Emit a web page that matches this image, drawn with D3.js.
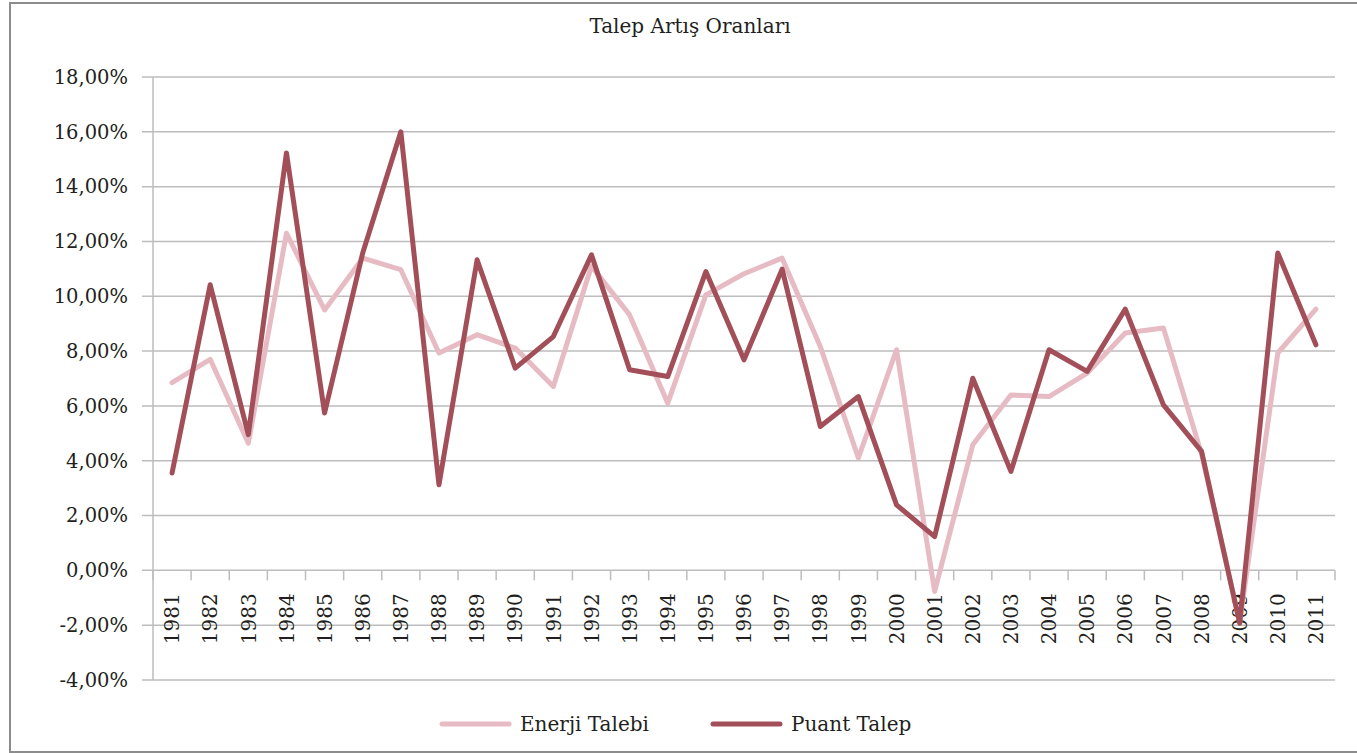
<!DOCTYPE html>
<html>
<head>
<meta charset="utf-8">
<script src="https://cdn.jsdelivr.net/npm/d3@7"></script>
<style>
  body { margin: 0; background: #fff; }
  text { font-family: "DejaVu Serif", serif; fill: #231f20; }
</style>
</head>
<body>
<div class="chart"></div>
<script>
var years = [1981, 1982, 1983, 1984, 1985, 1986, 1987, 1988, 1989, 1990,
  1991, 1992, 1993, 1994, 1995, 1996, 1997, 1998, 1999, 2000,
  2001, 2002, 2003, 2004, 2005, 2006, 2007, 2008, 2009, 2010, 2011];

var enerjiTalebi = [6.85, 7.7, 4.64, 12.3, 9.5, 11.39, 10.97, 7.93, 8.6, 8.11,
  6.71, 11.1, 9.32, 6.1, 10.05, 10.82, 11.39, 8.17, 4.1, 8.05,
  -0.77, 4.58, 6.4, 6.34, 7.2, 8.66, 8.84, 4.25, -1.9, 7.93, 9.53];

var puantTalep = [3.55, 10.42, 4.95, 15.23, 5.74, 11.58, 16.0, 3.12, 11.33, 7.38,
  8.53, 11.51, 7.32, 7.07, 10.9, 7.68, 10.99, 5.25, 6.34, 2.39,
  1.23, 7.01, 3.61, 8.05, 7.26, 9.53, 6.04, 4.34, -1.93, 11.58, 8.23];

var yTicks = [-4, -2, 0, 2, 4, 6, 8, 10, 12, 14, 16, 18];

var series = [
  {name: 'Enerji Talebi', values: enerjiTalebi, color: '#e7bbc3'},
  {name: 'Puant Talep', values: puantTalep, color: '#a34f59'}
];

var W = 1357, H = 753;
var margin = {top: 77, right: 22, bottom: 73, left: 153};
var width = W - margin.left - margin.right;
var height = H - margin.top - margin.bottom;

var root = d3.select('.chart')
  .append('svg')
  .attr('width', W)
  .attr('height', H);

// outer frame
root.append('path')
  .attr('d', `M${W + 5},3 H10 V752 H${W + 5}`)
  .style('fill', 'none')
  .style('stroke', '#8c8c8c')
  .style('stroke-width', 2);

root.append('text')
  .attr('x', 690)
  .attr('y', 33)
  .style('text-anchor', 'middle')
  .style('font-size', '20px')
  .text('Talep Artış Oranları');

var svg = root.append('g')
  .attr('transform', `translate(${margin.left}, ${margin.top})`);

var xScale = d3.scaleBand()
  .domain(years)
  .range([0, width]);

var yScale = d3.scaleLinear()
  .domain([-4, 18])
  .range([height, 0]);

// gridlines
svg.append('g')
  .selectAll('line')
  .data(yTicks)
  .enter()
  .append('line')
  .attr('x1', -11)
  .attr('x2', width)
  .attr('y1', d => yScale(d))
  .attr('y2', d => yScale(d))
  .style('stroke', '#bdbdbd')
  .style('stroke-width', 1.5);

// y axis line
svg.append('line')
  .attr('x1', 0).attr('x2', 0)
  .attr('y1', 0).attr('y2', height)
  .style('stroke', '#bdbdbd')
  .style('stroke-width', 1.5);

var fmt = d => d3.format('.2f')(d).replace('.', ',').replace('\u2212', '-') + '%';

svg.append('g')
  .selectAll('text')
  .data(yTicks)
  .enter()
  .append('text')
  .attr('x', -25)
  .attr('y', d => yScale(d))
  .attr('dy', '0.35em')
  .style('text-anchor', 'end')
  .style('font-size', '19.5px')
  .text(fmt);

// category axis on 0 line
var y0 = yScale(0);
var xAxis = d3.axisBottom(xScale).tickSize(0).tickFormat('');
var xg = svg.append('g')
  .attr('transform', `translate(0, ${y0})`)
  .call(xAxis);
xg.select('.domain').remove();

var bounds = years.map(y => xScale(y) + xScale.bandwidth()).concat([0]);
xg.selectAll('.sep')
  .data(bounds)
  .enter()
  .append('line')
  .attr('x1', d => d).attr('x2', d => d)
  .attr('y1', 0).attr('y2', 10)
  .style('stroke', '#bdbdbd')
  .style('stroke-width', 1.5);

xg.selectAll('.yl')
  .data(years)
  .enter()
  .append('text')
  .attr('transform', d => `translate(${xScale(d) + xScale.bandwidth() / 2}, 23) rotate(-90)`)
  .attr('dy', '0.36em')
  .style('text-anchor', 'end')
  .style('font-size', '20px')
  .text(d => d);

// lines
var line = d3.line()
  .x((d, i) => xScale(years[i]) + xScale.bandwidth() / 2)
  .y(d => yScale(d));

svg.selectAll('.series')
  .data(series)
  .enter()
  .append('path')
  .attr('class', 'series')
  .attr('d', d => line(d.values))
  .style('fill', 'none')
  .style('stroke', d => d.color)
  .style('stroke-width', 5)
  .style('stroke-linejoin', 'round')
  .style('stroke-linecap', 'round');

// legend
var legendX = [442, 713];
var legend = root.selectAll('.legend')
  .data(series)
  .enter()
  .append('g')
  .attr('class', 'legend')
  .attr('transform', (d, i) => `translate(${legendX[i]}, 724)`);

legend.append('line')
  .attr('x1', 0).attr('x2', 67)
  .attr('y1', 0).attr('y2', 0)
  .style('stroke', d => d.color)
  .style('stroke-width', 5)
  .style('stroke-linecap', 'round');

legend.append('text')
  .attr('x', 78)
  .attr('dy', '0.35em')
  .style('font-size', '20px')
  .text(d => d.name);
</script>
</body>
</html>
